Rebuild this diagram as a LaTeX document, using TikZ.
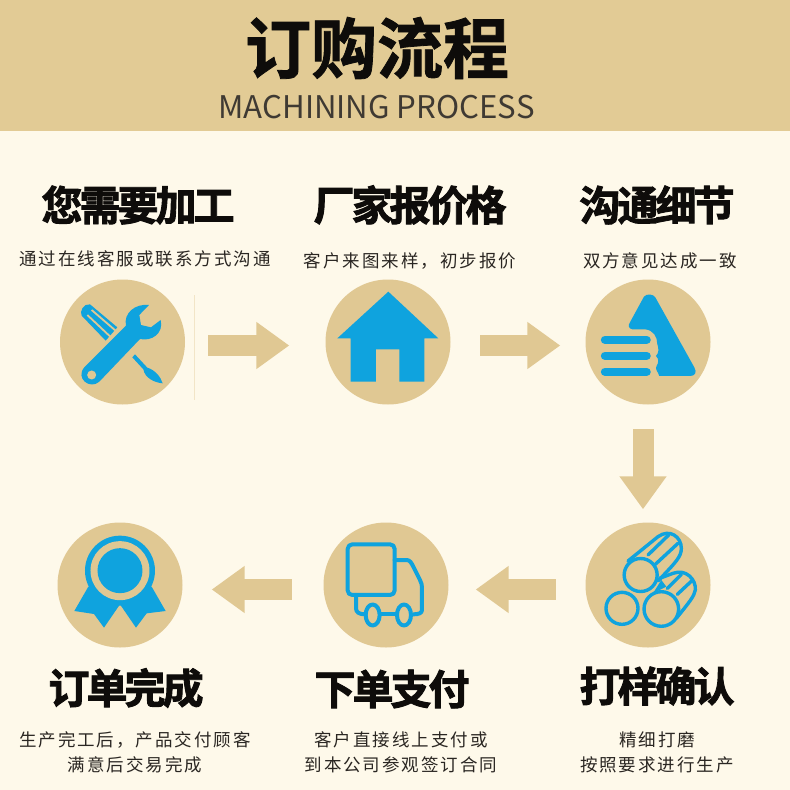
\documentclass[tikz,border=0pt]{standalone}
\usepackage{fontspec}
\usetikzlibrary{arrows.meta}
\setmainfont{Noto Sans CJK SC}
\newfontfamily\titlefont[BoldFont=*,FakeBold=1.2]{Noto Sans CJK SC Bold}
\newfontfamily\subfont{Noto Sans CJK SC}
\newfontfamily\headfont[LetterSpace=-7.3,FakeBold=2.2]{Noto Sans CJK SC Bold}
\newfontfamily\bodyfont[LetterSpace=11.4]{Noto Sans CJK SC}
\definecolor{bandc}{HTML}{E2CB95}
\definecolor{paper}{HTML}{FEF9EA}
\definecolor{tanc}{HTML}{E0C893}
\definecolor{bluec}{HTML}{0FA3DE}
\definecolor{inkc}{HTML}{0E0C0A}
\definecolor{subc}{HTML}{3F3A33}
\definecolor{bodyc}{HTML}{2A2622}
\tikzset{
  disc/.style={circle,fill=tanc,minimum size=125pt,inner sep=0pt},
  heading/.style={inner sep=0pt,text=inkc,font=\headfont\fontsize{41}{44}\selectfont},
  body/.style={inner sep=0pt,text=bodyc,align=center,font=\bodyfont\fontsize{17.5}{25}\selectfont},
  blockarrow/.style={draw=tanc,line width=21pt,-{Triangle[length=33pt,width=45pt]}},
  iconline/.style={draw=bluec,line width=3.4pt,line cap=round,line join=round},
  truckline/.style={draw=bluec,line width=4pt,line cap=round,line join=round},
  zoomed/.style={x=0.3333pt,y=-0.3333pt}
}
\begin{document}
\begin{tikzpicture}[x=1pt,y=-1pt]
\useasboundingbox (0,0) rectangle (790,790);
\fill[paper] (0,0) rectangle (790,790);
\fill[bandc] (0,0) rectangle (790,131);
\node[inner sep=0pt,text=inkc,font=\titlefont\fontsize{66}{70}\selectfont] (title) at (377,48) {订购流程};
\node[inner sep=0pt,text=subc,font=\subfont\fontsize{31.2}{34}\selectfont] (subtitle) at (376.5,107) {MACHINING PROCESS};

\draw[draw=tanc!40!paper,line width=0.5pt] (194,295) -- (194,400);

\node[disc] (c1) at (122.5,342) {};
\node[disc] (c2) at (388,342) {};
\node[disc] (c3) at (648,342) {};
\node[disc] (c4) at (120,585) {};
\node[disc] (c5) at (386,585) {};
\node[disc] (c6) at (648,585) {};

\draw[blockarrow,shorten <=23pt,shorten >=36pt] ([yshift=-3.5pt]c1.east) -- ([yshift=-3.5pt]c2.west);
\draw[blockarrow,shorten <=29.5pt,shorten >=25pt] ([yshift=-3.5pt]c2.east) -- ([yshift=-3.5pt]c3.west);
\draw[blockarrow,shorten <=24.5pt,shorten >=13pt] ([xshift=-5pt]c3.south) -- ([xshift=-5pt]c6.north);
\draw[blockarrow,shorten <=29.5pt,shorten >=27pt] ([yshift=-4.5pt]c6.west) -- ([yshift=-4.5pt]c5.east);
\draw[blockarrow,shorten <=31.5pt,shorten >=29pt] ([yshift=-4.5pt]c5.west) -- ([yshift=-4.5pt]c4.east);

\node[heading] (h1) at (138,205) {您需要加工};
\node[heading] (h2) at (410,205) {厂家报价格};
\node[heading] (h3) at (657,205) {沟通细节};
\node[heading] (h4) at (126,688) {订单完成};
\node[heading] (h5) at (392,689) {下单支付};
\node[heading] (h6) at (657,686) {打样确认};

\node[body] (t1) at (145,259) {通过在线客服或联系方式沟通};
\node[body] (t2) at (410,261) {客户来图来样，初步报价};
\node[body] (t3) at (660,261) {双方意见达成一致};
\node[body] (t4) at (135,752) {生产完工后，产品交付顾客\\满意后交易完成};
\node[body] (t5) at (401,752) {客户直接线上支付或\\到本公司参观签订合同};
\node[body] (t6) at (657,752) {精细打磨\\按照要求进行生产};

% wrench and screwdriver
\begin{scope}[shift={(40,270)},zoomed]
\fill[bluec] (150,103) -- (232,172) -- (197,212) -- (125,137) .. controls (118,125) and (130,100) .. (150,103) -- cycle;
\draw[tanc,line width=1.8pt] (155,120) -- (228,183);
\draw[tanc,line width=1.8pt] (142,135) -- (211,200);
\fill[bluec] (133,292) -- (258,167) .. controls (250,130) and (285,100) .. (327,105) -- (298,135) -- (303,165) -- (333,172) -- (362,150) .. controls (372,190) and (335,215) .. (300,207) -- (178,335) .. controls (150,360) and (105,325) .. (133,292) -- cycle;
\fill[tanc] (155,315) circle[radius=4.5pt];
\fill[bluec] (285,253) -- (322,293) .. controls (345,300) and (362,320) .. (368,340) .. controls (345,338) and (315,325) .. (310,298) -- (277,262) -- cycle;
\end{scope}

% house and thumb
\begin{scope}[shift={(320,270)},zoomed]
\fill[bluec] (205,65) -- (355,205) -- (313,205) -- (313,335) -- (238,335) -- (238,238) -- (168,238) -- (168,335) -- (92,335) -- (92,205) -- (52,205) -- cycle;
\draw[bluec,line width=8.3pt,line cap=round] (855,209.5) -- (980,209.5);
\draw[bluec,line width=8.3pt,line cap=round] (855,257.5) -- (980,257.5);
\draw[bluec,line width=8.3pt,line cap=round] (855,305.5) -- (980,305.5);
\fill[bluec] (972,80) .. controls (980,70) and (1000,72) .. (1006,82) -- (1123,292) .. controls (1132,308) and (1125,318) .. (1110,318) -- (1018,318) .. controls (1014,305) and (1005,298) .. (1009,290) .. controls (1016,278) and (1018,268) .. (1008,258) .. controls (1018,248) and (1016,235) .. (1012,222) .. controls (1012,200) and (1000,180) .. (975,178) -- (937,178) .. controls (925,176) and (924,165) .. (930,157) -- cycle;
\end{scope}

% medal
\begin{scope}[shift={(40,515)},zoomed]
\fill[bluec,line join=round] (145,215) -- (103,288) -- (162,297) -- (192,338) -- (240,268) -- (288,338) -- (320,295) -- (377,288) -- (335,215) -- cycle;
\fill[bluec] (240,167) circle[radius=35pt];
\fill[tanc] (240,167) circle[radius=29.5pt];
\fill[bluec] (240,167) circle[radius=22.5pt];
\end{scope}

% truck
\begin{scope}[shift={(320,515)},zoomed]
\begin{scope}[truckline]
\draw (224,135) -- (260,135) .. controls (270,135) and (275,145) .. (280,155) -- (300,195) .. controls (305,205) and (306,210) .. (306,220) -- (306,285) .. controls (306,295) and (295,298) .. (280,298);
\draw (108,240) -- (108,280) .. controls (108,292) and (118,298) .. (135,298);
\draw (180,298) -- (230,298);
\draw (97,88) -- (210,88) .. controls (218,88) and (224,94) .. (224,102) -- (224,226) .. controls (224,234) and (218,240) .. (210,240) -- (97,240) .. controls (89,240) and (83,234) .. (83,226) -- (83,102) .. controls (83,94) and (89,88) .. (97,88) -- cycle;
\draw (158,300) ellipse[x radius=7pt,y radius=10.5pt];
\draw (252,300) ellipse[x radius=7pt,y radius=10.5pt];
\end{scope}
\end{scope}

% logs
\begin{scope}[shift={(598,525)},zoomed]
\fill[bluec] (165,205) -- (190,165) -- (205,185) -- cycle;
\begin{scope}[iconline]
\draw (90,108) -- (180,35) .. controls (215,10) and (250,35) .. (250,70) .. controls (250,95) and (235,110) .. (180,168);
\draw (150,90) -- (212,30);
\draw (172,118) -- (240,55);
\draw (185,160) -- (225,145) .. controls (265,130) and (295,165) .. (292,195) .. controls (288,215) and (275,230) .. (235,280);
\draw (208,190) -- (250,148);
\draw (238,208) -- (284,165);
\draw (128,150) circle[radius=16.5pt];
\draw (72,250) circle[radius=16pt];
\draw (190,252) circle[radius=17.3pt];
\end{scope}
\end{scope}
\end{tikzpicture}
\end{document}
